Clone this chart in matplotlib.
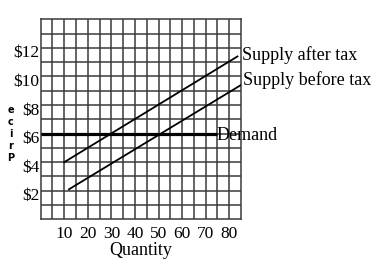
import matplotlib
matplotlib.use("Agg")
import matplotlib.pyplot as plt
import matplotlib.transforms as mtransforms

# data
x_ticks = [10, 20, 30, 40, 50, 60, 70, 80]
y_ticks = [2, 4, 6, 8, 10, 12]
y_tick_labels = ["$2", "$4", "$6", "$8", "$10", "$12"]

after_tax_x = [10, 83.5]
after_tax_y = [4.0, 11.4]
before_tax_x = [12, 85]
before_tax_y = [2.1, 9.4]
demand_x = [0, 75]
demand_y = [6, 6]

serif = "Liberation Serif"

fig = plt.figure(figsize=(3.75, 2.65), dpi=100)
ax = fig.add_axes([40.7 / 375, (265 - 219.3) / 265, 200.3 / 375, 200 / 265])
ax.set_xlim(0, 85)
ax.set_ylim(0, 14)

# grid every 5 units of quantity and every $1
for gx in range(5, 85, 5):
    ax.axvline(gx, color="#3a3a3a", lw=1.1, zorder=1)
for gy in range(1, 14):
    ax.axhline(gy, color="#3a3a3a", lw=1.1, zorder=1)
for s in ax.spines.values():
    s.set_color("#3a3a3a")
    s.set_linewidth(1.1)

ax.plot(after_tax_x, after_tax_y, color="black", lw=1.3, zorder=3)
ax.plot(before_tax_x, before_tax_y, color="black", lw=1.3, zorder=3)
ax.plot(demand_x, demand_y, color="black", lw=2.3, solid_capstyle="butt", zorder=3)

ax.set_xticks(x_ticks)
ax.set_xticklabels([str(v) for v in x_ticks], fontfamily=serif, fontsize=12.5)
ax.set_yticks(y_ticks)
ax.set_yticklabels(y_tick_labels, fontfamily=serif, fontsize=12.5)
ax.tick_params(length=0, pad=1)
ax.tick_params(axis="x", pad=5)
off = mtransforms.ScaledTranslation(0, -3.5 / 100, fig.dpi_scale_trans)
for lab in ax.get_yticklabels():
    lab.set_transform(lab.get_transform() + off)

ax.set_xlabel("Quantity", fontfamily=serif, fontsize=13, labelpad=0)

ax.text(after_tax_x[1] + 2.0, after_tax_y[1] + 0.1, "Supply after tax", fontfamily=serif,
        fontsize=13, va="center", ha="left", clip_on=False)
ax.text(before_tax_x[1] + 0.8, before_tax_y[1] + 0.35, "Supply before tax", fontfamily=serif,
        fontsize=13, va="center", ha="left", clip_on=False)
ax.text(demand_x[1] - 0.6, demand_y[1] - 0.1, "Demand", fontfamily=serif,
        fontsize=13, va="center", ha="left", clip_on=False)

# stacked y label
fig.text(11 / 375, 1 - 134 / 265, "e\nc\ni\nr\nP", fontfamily="DejaVu Sans",
         fontweight="bold", fontsize=7, ha="center", va="center", linespacing=1.25)

fig.savefig("out.png", dpi=100)
